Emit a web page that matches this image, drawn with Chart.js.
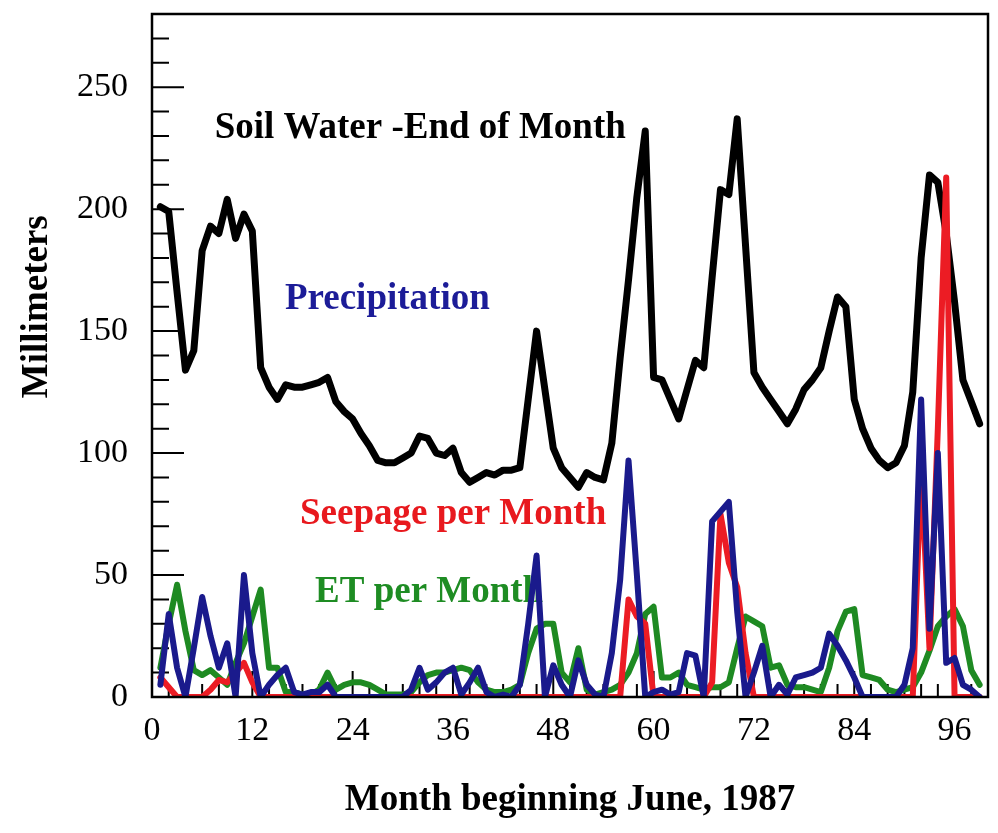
<!DOCTYPE html>
<html>
<head>
<meta charset="utf-8">
<script src="https://cdn.jsdelivr.net/npm/chart.js@4.4.1/dist/chart.umd.min.js"></script>
<style>
  html, body { margin: 0; padding: 0; background: #fff; }
  #wrap { width: 998px; height: 833px; }
</style>
</head>
<body>
<div id="wrap"><canvas id="chart" width="998" height="833"></canvas></div>
<script>
// months since June 1987
const months = [
   1,  2,  3,  4,  5,  6,  7,  8,  9, 10, 11, 12,
  13, 14, 15, 16, 17, 18, 19, 20, 21, 22, 23, 24,
  25, 26, 27, 28, 29, 30, 31, 32, 33, 34, 35, 36,
  37, 38, 39, 40, 41, 42, 43, 44, 45, 46, 47, 48,
  49, 50, 51, 52, 53, 54, 55, 56, 57, 58, 59, 60,
  61, 62, 63, 64, 65, 66, 67, 68, 69, 70, 71, 72,
  73, 74, 75, 76, 77, 78, 79, 80, 81, 82, 83, 84,
  85, 86, 87, 88, 89, 90, 91, 92, 93, 94, 95, 96,
  97, 98, 99
];

// millimeters
const soilWater = [
  201, 199, 166, 134, 142, 183, 193, 190, 204, 188, 198, 191,
  135, 127, 122, 128, 127, 127, 128, 129, 131, 121, 117, 114,
  108, 103,  97,  96,  96,  98, 100, 107, 106, 100,  99, 102,
   92,  88,  90,  92,  91,  93,  93,  94, 122, 150, 126, 102,
   94,  90,  86,  92,  90,  89, 104, 139, 171, 205, 232, 131,
  130, 122, 114, 126, 138, 135, 172, 208, 206, 237, 185, 133,
  127, 122, 117, 112, 118, 126, 130, 135, 150, 164, 160, 122,
  110, 102,  97,  94,  96, 103, 125, 180, 214, 211, 190, 162,
  130, 121, 112
];

const precipitation = [
    5,  34,  12,   0,  20,  41,  25,  12,  22,   0,  50,  18,
    0,   5,   9,  12,   2,   1,   2,   2,   5,   0,   0,   0,
    0,   0,   0,   0,   0,   0,   3,  12,   3,   6,  10,  12,
    1,   6,  12,   2,   0,   1,   0,   5,  30,  58,   0,  13,
    5,   0,  15,   5,   1,   0,  18,  48,  97,  50,   0,   2,
    3,   1,   2,  18,  17,   0,  72,  76,  80,  35,   0,  10,
   21,   0,   5,   1,   8,   9,  10,  12,  26,  21,  15,   8,
    0,   0,   0,   0,   0,   5,  20, 122,  28, 100,  14,  16,
    5,   3,   0
];

const seepage = [
    8,   4,   0,   0,   0,   0,   3,   7,   6,  10,  14,   6,
    0,   0,   0,   0,   0,   0,   0,   0,   0,   0,   0,   0,
    0,   0,   0,   0,   0,   0,   0,   0,   0,   0,   0,   0,
    0,   0,   0,   0,   0,   0,   0,   0,   0,   0,   0,   0,
    0,   0,   0,   0,   0,   0,   0,   0,  40,  33,  30,   0,
    0,   0,   0,   0,   0,   0,   6,  75,  55,  45,  18,   0,
    0,   0,   0,   0,   0,   0,   0,   0,   0,   0,   0,   0,
    0,   0,   0,   0,   0,   0,   0,  95,  20, 110, 213,   0,
    0,   0,   0
];

const etPerMonth = [
   12,  30,  46,  27,  11,   9,  11,   8,   5,  14,  22,  33,
   44,  12,  12,   2,   2,   1,   1,   3,  10,   3,   5,   6,
    6,   5,   3,   1,   1,   1,   2,   6,   9,  10,  10,  11,
   12,  11,   6,   3,   2,   2,   3,   5,  18,  28,  30,  30,
   10,   6,  20,   3,   1,   2,   3,   5,  10,  18,  34,  37,
    8,   8,  10,   5,   4,   3,   4,   4,   6,  20,  33,  31,
   29,  12,  13,   5,   4,   4,   3,   2,  12,  27,  35,  36,
    9,   8,   7,   3,   2,   3,   4,  10,  19,  29,  33,  36,
   29,  11,   5
];

const xTickLabels = [0, 12, 24, 36, 48, 60, 72, 84, 96];
const yTickLabels = [0, 50, 100, 150, 200, 250];
const seriesNames = ['Soil Water -End of Month', 'Precipitation', 'Seepage per Month', 'ET per Month'];

const SERIF = '"Liberation Serif", "Times New Roman", serif';
const colors = {
  soil: '#000000',
  precip: '#1a1a8c',
  seep: '#ec1c24',
  et: '#1e8a22'
};

const toPoints = vals => months.map((m, i) => ({ x: m, y: vals[i] }));

// where the series names sit, in data units (left edge, vertical middle)
const nameSpots = [
  { name: seriesNames[0], color: colors.soil, x: 7.5, y: 233 },
  { name: seriesNames[1], color: '#1c1c98', x: 15.9, y: 163 },
  { name: seriesNames[2], color: '#e8191e', x: 17.7, y: 75 },
  { name: seriesNames[3], color: '#1e8c23', x: 19.5, y: 43 }
];

const decorations = {
  id: 'decorations',
  beforeDatasetsDraw(chart) {
    const { ctx, chartArea: a, scales: { x, y } } = chart;
    ctx.save();
    // inward tick marks
    ctx.strokeStyle = '#000';
    ctx.lineWidth = 2;
    ctx.beginPath();
    for (let v = 10; v < 280; v += 10) {
      const py = y.getPixelForValue(v);
      const len = v % 50 === 0 ? 32 : 17;
      ctx.moveTo(a.left, py);
      ctx.lineTo(a.left + len, py);
    }
    for (let m = 2; m < 100; m += 2) {
      const px = x.getPixelForValue(m);
      const len = m % 12 === 0 ? 26 : 13;
      ctx.moveTo(px, a.bottom);
      ctx.lineTo(px, a.bottom - len);
    }
    ctx.stroke();

    // series names inside the plot
    ctx.font = 'bold 37px ' + SERIF;
    ctx.textAlign = 'left';
    ctx.textBaseline = 'middle';
    nameSpots.forEach(s => {
      ctx.fillStyle = s.color;
      ctx.fillText(s.name, x.getPixelForValue(s.x), y.getPixelForValue(s.y));
    });
    ctx.restore();
  },
  afterDatasetsDraw(chart) {
    const { ctx, chartArea: a, scales: { y } } = chart;
    ctx.save();
    ctx.strokeStyle = '#000';
    ctx.lineWidth = 2.5;
    ctx.strokeRect(a.left, a.top, a.right - a.left, a.bottom - a.top);

    // y axis title
    ctx.translate(37, y.getPixelForValue(160));
    ctx.rotate(-Math.PI / 2);
    ctx.font = 'bold 37px ' + SERIF;
    ctx.fillStyle = '#000';
    ctx.textAlign = 'center';
    ctx.textBaseline = 'middle';
    ctx.fillText('Millimeters', 0, 0);
    ctx.restore();
  }
};

const lineStyle = {
  pointRadius: 0,
  tension: 0,
  fill: false,
  borderJoinStyle: 'round',
  borderCapStyle: 'round',
  clip: { left: 4, right: 4, top: 4, bottom: 0 }
};

new Chart(document.getElementById('chart'), {
  type: 'line',
  data: {
    datasets: [
      { ...lineStyle, label: seriesNames[1], data: toPoints(precipitation), borderColor: colors.precip, borderWidth: 6, order: 0 },
      { ...lineStyle, label: seriesNames[2], data: toPoints(seepage), borderColor: colors.seep, borderWidth: 6, order: 1 },
      { ...lineStyle, label: seriesNames[3], data: toPoints(etPerMonth), borderColor: colors.et, borderWidth: 6, order: 2 },
      { ...lineStyle, label: seriesNames[0], data: toPoints(soilWater), borderColor: colors.soil, borderWidth: 7, order: 3 }
    ]
  },
  options: {
    responsive: false,
    animation: false,
    layout: { padding: { top: 14, right: 10, left: 0, bottom: 0 } },
    plugins: {
      legend: { display: false },
      tooltip: { enabled: false }
    },
    scales: {
      x: {
        type: 'linear',
        min: 0,
        max: 100,
        grid: { display: false, drawTicks: false },
        border: { display: false },
        afterBuildTicks: s => { s.ticks = xTickLabels.map(v => ({ value: v })); },
        afterFit: s => { s.height = 136; s.paddingLeft = 0; s.paddingRight = 0; },
        ticks: {
          autoSkip: false,
          maxRotation: 0,
          padding: 14,
          color: '#000',
          font: { family: SERIF, size: 34 }
        },
        title: {
          display: true,
          text: 'Month beginning June, 1987',
          color: '#000',
          font: { family: SERIF, size: 37, weight: 'bold' },
          padding: { top: 0, bottom: 10 }
        }
      },
      y: {
        min: 0,
        max: 280,
        grid: { display: false, drawTicks: false },
        border: { display: false },
        afterBuildTicks: s => { s.ticks = yTickLabels.map(v => ({ value: v })); },
        afterFit: s => { s.width = 152; s.paddingTop = 0; s.paddingBottom = 0; },
        ticks: {
          padding: 24,
          color: '#000',
          font: { family: SERIF, size: 34 }
        }
      }
    }
  },
  plugins: [decorations]
});
</script>
</body>
</html>
